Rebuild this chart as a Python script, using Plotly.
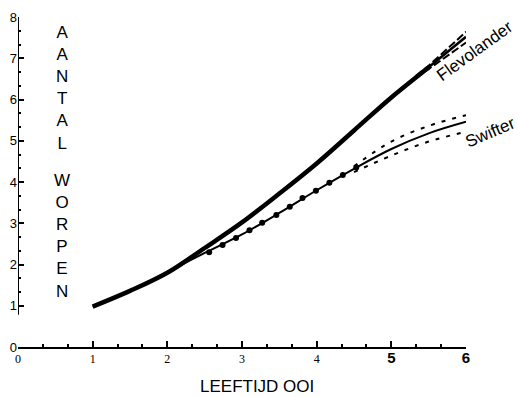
import plotly.graph_objects as go

# ---- data ----
age = [1.0, 1.5, 2.0, 2.5, 3.0, 3.5, 4.0, 4.5, 5.0, 5.5, 6.0]
flevolander = [0.98, 1.36, 1.80, 2.40, 3.02, 3.72, 4.45, 5.25, 6.05, 6.78, 7.52]
swifter = [0.98, 1.36, 1.82, 2.28, 2.73, 3.25, 3.80, 4.32, 4.80, 5.18, 5.46]

flev_band_x = [5.33, 5.5, 6.0]
flev_upper = [6.56, 6.82, 7.64]
flev_lower = [6.52, 6.74, 7.38]

swif_band_x = [4.5, 5.0, 5.5, 6.0]
swif_upper = [4.38, 4.98, 5.36, 5.62]
swif_lower = [4.24, 4.64, 4.98, 5.22]

swif_dot_x = [2.56, 2.74, 2.92, 3.10, 3.27, 3.46, 3.64, 3.81, 3.99, 4.17, 4.35, 4.53]
swif_dot_y = [2.30, 2.47, 2.64, 2.83, 3.01, 3.20, 3.40, 3.61, 3.79, 3.98, 4.17, 4.35]

x_ticks = [0, 1, 2, 3, 4, 5, 6]
x_ticktext = ["0", "1", "2", "3", "4",
              "<span style='font-size:15px;font-family:Liberation Sans'><b>5</b></span>",
              "<span style='font-size:15px;font-family:Liberation Sans'><b>6</b></span>"]
y_ticks = [0, 1, 2, 3, 4, 5, 6, 7, 8]
y_minor = [v + f for v in range(1, 8) for f in (1 / 3, 2 / 3)]
x_minor = [v + f for v in range(0, 6) for f in (1 / 3, 2 / 3)]

fig = go.Figure()

# Flevolander: thick part then thinner end with dashed band
split = 9
fig.add_trace(go.Scatter(x=age[:split + 1] + [flev_band_x[0]],
                         y=flevolander[:split + 1] + [6.54],
                         mode="lines", line=dict(color="black", width=4.5, shape="spline"),
                         showlegend=False, hoverinfo="skip"))
fig.add_trace(go.Scatter(x=age[split:], y=flevolander[split:], mode="lines",
                         line=dict(color="black", width=2.5), showlegend=False))
fig.add_trace(go.Scatter(x=flev_band_x, y=flev_upper, mode="lines",
                         line=dict(color="black", width=2, dash="8px,3px"), showlegend=False))
fig.add_trace(go.Scatter(x=flev_band_x, y=flev_lower, mode="lines",
                         line=dict(color="black", width=2, dash="8px,3px"), showlegend=False))

# Swifter
fig.add_trace(go.Scatter(x=age, y=swifter, mode="lines",
                         line=dict(color="black", width=2, shape="spline"), showlegend=False))
fig.add_trace(go.Scatter(x=swif_dot_x, y=swif_dot_y, mode="markers",
                         marker=dict(color="black", size=6), showlegend=False))
fig.add_trace(go.Scatter(x=swif_band_x, y=swif_upper, mode="lines",
                         line=dict(color="black", width=2, dash="4px,7px", shape="spline"),
                         showlegend=False))
fig.add_trace(go.Scatter(x=swif_band_x, y=swif_lower, mode="lines",
                         line=dict(color="black", width=2, dash="4px,7px", shape="spline"),
                         showlegend=False))

# broken y axis line
fig.add_shape(type="line", xref="x", yref="y", x0=0, x1=0, y0=0.78, y1=8,
              line=dict(color="black", width=2))

L, R, T, B = 18, 52, 17, 50
W, H = 518, 397
pw, ph = W - L - R, H - T - B


def px(xp):
    return (xp - L) / pw


def py(yp):
    return (H - B - yp) / ph


txt_font = dict(family="Liberation Sans", size=17, color="black")
common = dict(xref="paper", yref="paper", showarrow=False, font=txt_font,
              xanchor="center", yanchor="middle")
fig.add_annotation(text="A<br>A<br>N<br>T<br>A<br>L", x=px(62), y=py(88), align="center", **common)
fig.add_annotation(text="W<br>O<br>R<br>P<br>E<br>N", x=px(62), y=py(236), align="center", **common)
fig.add_annotation(text="LEEFTIJD OOI", x=px(257), y=py(386), **common)
fig.add_annotation(text="Flevolander", x=px(474), y=py(51), textangle=-36, **common)
fig.add_annotation(text="Swifter", x=px(490), y=py(132), textangle=-23, **common)

fig.update_layout(
    width=W, height=H,
    margin=dict(l=L, r=R, t=T, b=B, pad=0),
    paper_bgcolor="white", plot_bgcolor="white",
    xaxis=dict(range=[0, 6], showgrid=False, zeroline=False, showline=True,
               linecolor="black", linewidth=2,
               tickmode="array", tickvals=x_ticks, ticktext=x_ticktext,
               ticks="inside", ticklen=6, tickwidth=1.5, tickcolor="black",
               minor=dict(tickmode="array", tickvals=x_minor, ticks="inside",
                          ticklen=3, tickwidth=1.5, tickcolor="black"),
               tickfont=dict(family="Liberation Serif", size=12, color="black"),
               automargin=False),
    yaxis=dict(range=[0, 8], showgrid=False, zeroline=False, showline=False,
               tickmode="array", tickvals=y_ticks,
               ticks="inside", ticklen=6, tickwidth=1.5, tickcolor="black",
               minor=dict(tickmode="array", tickvals=y_minor, ticks="inside",
                          ticklen=3, tickwidth=1.5, tickcolor="black"),
               tickfont=dict(family="Liberation Sans", size=13, color="black"),
               ticklabelstandoff=0,
               automargin=False),
)

fig.write_html("out.html", config={"displayModeBar": False},
               post_script="document.body.style.margin='0';document.body.style.overflow='hidden';")
